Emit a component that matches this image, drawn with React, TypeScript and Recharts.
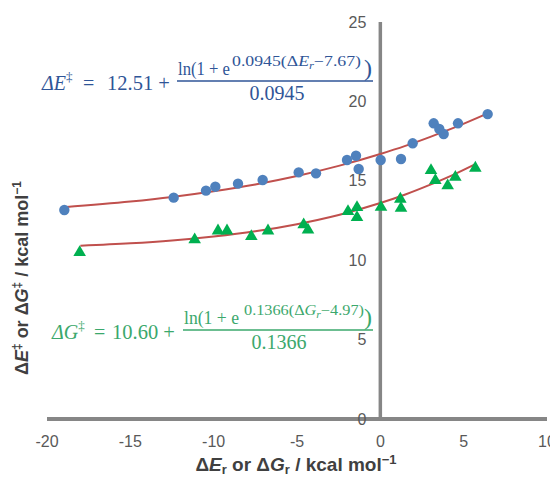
import React from 'react';
import { ComposedChart, Scatter, Line, XAxis, YAxis, ReferenceLine } from 'recharts';

// ΔEr / ΔE‡ points (blue circles)
const E_X = [-18.96, -12.4, -10.46, -9.9, -8.54, -7.06, -4.9, -3.86, -2.0, -1.46, -1.3, 0.02, 1.24, 1.94, 3.2, 3.54, 3.8, 4.66, 6.44];
const E_Y = [13.16, 13.94, 14.38, 14.63, 14.82, 15.05, 15.53, 15.47, 16.31, 16.58, 15.74, 16.31, 16.37, 17.36, 18.62, 18.26, 17.95, 18.62, 19.2];

// ΔGr / ΔG‡ points (green triangles)
const G_X = [-18.04, -11.14, -9.74, -9.2, -7.74, -6.74, -4.6, -4.34, -1.94, -1.4, -1.4, 0.04, 1.2, 1.24, 3.04, 3.3, 4.04, 4.5, 5.7];
const G_Y = [10.58, 11.38, 11.94, 11.94, 11.59, 11.94, 12.32, 12.0, 13.16, 13.41, 12.78, 13.43, 13.94, 13.37, 15.74, 15.11, 14.78, 15.32, 15.89];

// fitted curves
const E_FIT_X = [-19, -15, -12.5, -10, -7.5, -5, -2.5, 0, 1.5, 3, 4.5, 6.44];
const E_FIT_Y = [13.33, 13.69, 13.98, 14.34, 14.77, 15.3, 15.94, 16.69, 17.2, 17.77, 18.38, 19.25];
const G_FIT_X = [-18, -15, -12.5, -10, -7.5, -5, -2.5, 0, 1.5, 3, 4.5, 5.7];
const G_FIT_Y = [10.91, 11.06, 11.24, 11.49, 11.82, 12.27, 12.85, 13.6, 14.14, 14.76, 15.44, 16.05];

const X_TICKS = [-20, -15, -10, -5, 0, 5, 10];
const Y_TICKS = [0, 5, 10, 15, 20, 25];

const W = 550;
const H = 470;
const MARGIN = { top: 14, right: 11, bottom: 29, left: 38 };
const Y_AXIS_W = 1;
const PLOT_LEFT = MARGIN.left + Y_AXIS_W;
const PLOT_W = W - PLOT_LEFT - MARGIN.right;
// pixel x of the vertical (x = 0) axis, y tick labels sit next to it
const AXIS_X = PLOT_LEFT + (PLOT_W * (0 - X_TICKS[0])) / (X_TICKS[X_TICKS.length - 1] - X_TICKS[0]);

const BLUE = '#4F81BD';
const GREEN = '#00B050';
const RED = '#C0504D';
const AXIS = '#868686';
const TICK = '#595959';
const EQ_BLUE = '#2F5597';
const EQ_GREEN = '#3BA86C';
const SANS = '"Liberation Sans", Arial, sans-serif';
const SERIF = '"Liberation Serif", "Times New Roman", serif';

const zip = (xs: number[], ys: number[]) => xs.map((x, i) => ({ x, y: ys[i] }));

const Dot = (p: any) => <circle cx={p.cx} cy={p.cy} r={5.2} fill={BLUE} />;
const Tri = (p: any) => (
  <path d={`M${p.cx},${p.cy - 5.8} L${p.cx + 6.3},${p.cy + 5} L${p.cx - 6.3},${p.cy + 5} Z`} fill={GREEN} />
);

const XTick = ({ x, y, payload }: any) => (
  <text x={x} y={y + 22} dy="0.35em" textAnchor="middle" fontSize={16} fill={TICK} fontFamily={SANS}>
    {payload.value}
  </text>
);
const YTick = ({ y, payload }: any) => (
  <text x={AXIS_X - 14} y={y} dy="0.35em" textAnchor="end" fontSize={16} fill={TICK} fontFamily={SANS}>
    {payload.value}
  </text>
);

// fitted-equation label: lhs = c + ln(1 + e^(k(Δxr − x0))) / k
function Fit({
  color, lhs, x0, eqX, constX, constant, y, numLen, supX, sup, supLen, barX1, barX2, barY, denX, den,
}: any) {
  return (
    <g fill={color} fontFamily={SERIF} fontSize={20}>
      <text x={x0} y={y}>
        <tspan fontStyle="italic">Δ{lhs}</tspan>
        <tspan fontSize={13} dy={-9}>‡</tspan>
      </text>
      <text x={eqX} y={y}>=</text>
      <text x={constX} y={y} fontSize={20.5}>{constant} +</text>
      <text x={barX1 + 1} y={barY - 6} fontSize={18} textLength={numLen} lengthAdjust="spacingAndGlyphs">ln(1 + e</text>
      <text x={supX} y={barY - 15} fontSize={14} textLength={supLen} lengthAdjust="spacingAndGlyphs">
        <tspan>{sup[0]}(Δ</tspan>
        <tspan fontStyle="italic">{lhs}</tspan>
        <tspan fontStyle="italic" fontSize={10} dy={3}>r</tspan>
        <tspan dy={-3}>−{sup[1]})</tspan>
      </text>
      <text x={barX2 - 9} y={barY - 5} fontSize={24}>)</text>
      <line x1={barX1} x2={barX2} y1={barY} y2={barY} stroke={color} strokeWidth={1.3} />
      <text x={denX} y={barY + 19} textAnchor="middle">{den}</text>
    </g>
  );
}

function Overlay() {
  return (
    <svg width={W} height={H} style={{ position: 'absolute', left: 0, top: 0, pointerEvents: 'none' }}>
      <Fit
        color={EQ_BLUE} lhs="E" x0={34} eqX={75} constX={99} constant="12.51" y={82}
        numLen={52} supX={224} sup={['0.0945', '7.67']} supLen={129}
        barX1={169} barX2={365} barY={73} denX={269} den="0.0945"
      />
      <Fit
        color={EQ_GREEN} lhs="G" x0={44} eqX={86} constX={104} constant="10.60" y={331}
        numLen={55} supX={236} sup={['0.1366', '4.97']} supLen={120}
        barX1={175} barX2={365} barY={322} denX={271} den="0.1366"
      />
      {/* axis titles */}
      <g fill="#404040" fontFamily={SANS} fontWeight="bold">
        <text x={288} y={463} textAnchor="middle" fontSize={19}>
          <tspan>Δ</tspan>
          <tspan fontStyle="italic">E</tspan>
          <tspan fontSize={13} dy={3}>r</tspan>
          <tspan dy={-3}> or Δ</tspan>
          <tspan fontStyle="italic">G</tspan>
          <tspan fontSize={13} dy={3}>r</tspan>
          <tspan dy={-3}> / kcal mol</tspan>
          <tspan fontSize={13} dy={-7}>−1</tspan>
        </text>
        <text x={0} y={0} textAnchor="middle" fontSize={18} transform="translate(20,270) rotate(-90)">
          <tspan>Δ</tspan>
          <tspan fontStyle="italic">E</tspan>
          <tspan fontSize={12} dy={-7}>‡</tspan>
          <tspan dy={7}> or Δ</tspan>
          <tspan fontStyle="italic">G</tspan>
          <tspan fontSize={12} dy={-7}>‡</tspan>
          <tspan dy={7}> / kcal mol</tspan>
          <tspan fontSize={12} dy={-7}>−1</tspan>
        </text>
      </g>
    </svg>
  );
}

export default function App() {
  const ePts = zip(E_X, E_Y);
  const gPts = zip(G_X, G_Y);
  const eFit = zip(E_FIT_X, E_FIT_Y);
  const gFit = zip(G_FIT_X, G_FIT_Y);

  return (
    <div style={{ position: 'relative', width: W, height: H, fontFamily: SANS }}>
      <ComposedChart width={W} height={H} margin={MARGIN}>
        <XAxis
          type="number"
          dataKey="x"
          domain={[-20, 10]}
          ticks={X_TICKS}
          allowDataOverflow
          height={30}
          axisLine={false}
          tickLine={false}
          tickSize={0}
          tickMargin={0}
          tick={<XTick />}
        />
        <YAxis
          type="number"
          dataKey="y"
          domain={[0, 25]}
          ticks={Y_TICKS}
          allowDataOverflow
          width={Y_AXIS_W}
          axisLine={false}
          tickLine={false}
          tick={<YTick />}
        />
        <ReferenceLine y={0} stroke={AXIS} strokeWidth={4} />
        <ReferenceLine x={0} stroke={AXIS} strokeWidth={3.5} />
        <Scatter data={ePts} shape={Dot} isAnimationActive={false} />
        <Scatter data={gPts} shape={Tri} isAnimationActive={false} />
        <Line data={eFit} dataKey="y" type="monotone" stroke={RED} strokeWidth={2} dot={false} activeDot={false} isAnimationActive={false} />
        <Line data={gFit} dataKey="y" type="monotone" stroke={RED} strokeWidth={2} dot={false} activeDot={false} isAnimationActive={false} />
      </ComposedChart>
      <Overlay />
    </div>
  );
}
